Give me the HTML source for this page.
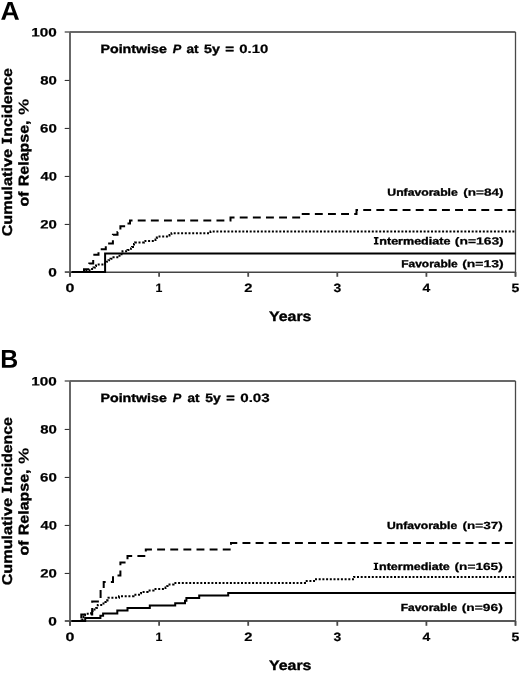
<!DOCTYPE html>
<html><head><meta charset="utf-8"><style>
html,body{margin:0;padding:0;background:#fff;}
svg{display:block;will-change:transform;}
text{font-family:"Liberation Sans",sans-serif;font-weight:bold;fill:#000;stroke:#000;stroke-width:0.35px;text-rendering:geometricPrecision;}
</style></head><body>
<svg width="520" height="673" viewBox="0 0 520 673">
<rect width="520" height="673" fill="#fff"/>
<path d="M70.0,32H515.5" fill="none" stroke="#686868" stroke-width="2"/>
<path d="M515.5,32V276.5" fill="none" stroke="#484848" stroke-width="1.3"/>
<path d="M70.0,32V276.7" fill="none" stroke="#606060" stroke-width="1.9"/>
<path d="M65.0,272.2H515.5" fill="none" stroke="#444" stroke-width="1.6"/>
<path d="M64.7,272H70.0" stroke="#606060" stroke-width="1.5"/>
<path d="M70.00,272V276.8" stroke="#4a4a4a" stroke-width="1.8"/>
<path d="M64.7,224.45H69.5" stroke="#333" stroke-width="1.1"/>
<path d="M159.10,272V276.8" stroke="#4a4a4a" stroke-width="1.8"/>
<path d="M64.7,176.45H69.5" stroke="#333" stroke-width="1.1"/>
<path d="M248.20,272V276.8" stroke="#4a4a4a" stroke-width="1.8"/>
<path d="M64.7,128.45H69.5" stroke="#333" stroke-width="1.1"/>
<path d="M337.30,272V276.8" stroke="#4a4a4a" stroke-width="1.8"/>
<path d="M64.7,80.45H69.5" stroke="#333" stroke-width="1.1"/>
<path d="M426.40,272V276.8" stroke="#4a4a4a" stroke-width="1.8"/>
<path d="M64.7,32H70.0" stroke="#606060" stroke-width="1.5"/>
<path d="M515.50,272V276.8" stroke="#4a4a4a" stroke-width="1.8"/>
<path d="M70.0,381H515.5" fill="none" stroke="#686868" stroke-width="2"/>
<path d="M515.5,381V625.5" fill="none" stroke="#484848" stroke-width="1.3"/>
<path d="M70.0,381V625.7" fill="none" stroke="#606060" stroke-width="1.9"/>
<path d="M65.0,621H515.5" fill="none" stroke="#585858" stroke-width="1.8"/>
<path d="M64.7,621H70.0" stroke="#606060" stroke-width="1.5"/>
<path d="M70.00,621V625.8" stroke="#4a4a4a" stroke-width="1.8"/>
<path d="M64.7,573.45H69.5" stroke="#333" stroke-width="1.1"/>
<path d="M159.10,621V625.8" stroke="#4a4a4a" stroke-width="1.8"/>
<path d="M64.7,525.45H69.5" stroke="#333" stroke-width="1.1"/>
<path d="M248.20,621V625.8" stroke="#4a4a4a" stroke-width="1.8"/>
<path d="M64.7,477.45H69.5" stroke="#333" stroke-width="1.1"/>
<path d="M337.30,621V625.8" stroke="#4a4a4a" stroke-width="1.8"/>
<path d="M64.7,429.45H69.5" stroke="#333" stroke-width="1.1"/>
<path d="M426.40,621V625.8" stroke="#4a4a4a" stroke-width="1.8"/>
<path d="M64.7,381H70.0" stroke="#606060" stroke-width="1.5"/>
<path d="M515.50,621V625.8" stroke="#4a4a4a" stroke-width="1.8"/>
<path d="M71.8,272H105.1V253.5H515.5" fill="none" stroke="#000" stroke-width="2" />
<path d="M71.80,272.00H86.50V270.50H89.50V269.10H93.50V267.60H95.00V266.10H96.00V264.60H105.00V263.20H106.50V261.70H108.50V260.20H110.50V258.80H113.50V257.30H119.50V255.80H120.50V254.30H121.50V252.90H122.50V251.30H127.50V249.90H131.00V248.40H132.00V247.00H133.00V245.50H134.00V244.00H135.00V242.50H144.00V241.00H155.50V239.60H156.20V238.10H156.80V236.60H169.50V235.10H171.50V233.30H210.50V231.60H515.50" fill="none" stroke="#000" stroke-width="2" stroke-dasharray="2 1.7"/>
<path d="M71.80,272.00H84.00V269.14H89.30V263.43H93.20V254.86H98.50V249.14H105.80V243.43H112.90V234.86H117.50V232.00H120.40V226.29H127.00V223.43H130.00V220.57H230.50V217.60H300.80V214.00H356.50V209.90H515.50" fill="none" stroke="#000" stroke-width="2" stroke-dasharray="7.9 5.22" stroke-dashoffset="0.7"/>
<path d="M71.80,621.00H85.20V618.10H100.40V615.80H103.10V613.40H117.30V610.60H127.50V608.00H149.80V605.40H175.20V603.20H185.00V600.80H186.40V598.10H199.20V595.60H228.20V593.00H515.50" fill="none" stroke="#000" stroke-width="2" />
<path d="M71.80,621.00H81.50V619.50H82.50V618.10H83.50V616.60H84.30V615.20H85.00V613.70H91.00V612.30H92.50V610.80H94.50V609.40H96.20V607.90H96.80V606.50H97.80V605.00H103.50V603.50H105.50V602.10H107.00V600.60H107.50V599.20H108.50V597.70H119.00V596.20H133.50V594.80H139.00V593.30H141.00V591.90H147.50V590.50H153.50V589.00H165.50V587.40H166.00V586.00H167.50V584.50H173.50V583.00H305.00V581.10H314.00V579.30H354.00V576.90H515.50" fill="none" stroke="#000" stroke-width="2" stroke-dasharray="2 1.7"/>
<path d="M71.80,621.00H81.30V614.51H92.20V601.53H100.60V588.55H103.70V582.06H113.00V575.57H120.40V562.59H127.50V556.10H145.80V549.61H231.00V543.10H515.50" fill="none" stroke="#000" stroke-width="2" stroke-dasharray="7.9 5.22" stroke-dashoffset="0.7"/>
<text transform="matrix(1.0289,0.0005,0,1,0.48,19.80)" font-size="25.857" style="stroke-width:0.0px">A</text>
<text transform="matrix(0.9620,0.0005,0,1,0.26,367.80)" font-size="25.857" style="stroke-width:0.0px">B</text>
<text transform="matrix(1.2667,0.0005,0,1,48.29,276.55)" font-size="12.2" style="stroke-width:0.2px">0</text>
<text transform="matrix(1.2248,0.0005,0,1,40.23,228.55)" font-size="12.2" style="stroke-width:0.2px">20</text>
<text transform="matrix(1.2061,0.0005,0,1,40.48,180.55)" font-size="12.2" style="stroke-width:0.2px">40</text>
<text transform="matrix(1.2344,0.0005,0,1,40.11,132.55)" font-size="12.2" style="stroke-width:0.2px">60</text>
<text transform="matrix(1.2248,0.0005,0,1,40.23,84.55)" font-size="12.2" style="stroke-width:0.2px">80</text>
<text transform="matrix(1.2539,0.0005,0,1,31.32,36.55)" font-size="12.2" style="stroke-width:0.2px">100</text>
<text transform="matrix(1.3220,0.0005,0,1,65.57,291.90)" font-size="12.1" style="stroke-width:0.2px">0</text>
<text transform="matrix(1.0172,0.0005,0,1,155.44,291.90)" font-size="12.1" style="stroke-width:0.2px">1</text>
<text transform="matrix(1.2167,0.0005,0,1,244.18,291.90)" font-size="12.1" style="stroke-width:0.2px">2</text>
<text transform="matrix(1.1452,0.0005,0,1,333.52,291.90)" font-size="12.1" style="stroke-width:0.2px">3</text>
<text transform="matrix(1.1493,0.0005,0,1,422.44,291.90)" font-size="12.1" style="stroke-width:0.2px">4</text>
<text transform="matrix(1.1613,0.0005,0,1,511.55,291.90)" font-size="12.1" style="stroke-width:0.2px">5</text>
<text transform="matrix(1.1444,0.0005,0,1,269.00,320.90)" font-size="13.9">Years</text>
<text transform="translate(12.00,236.36) rotate(-90) matrix(1.1425,0.0005,0,1,0,0)" font-size="14.2">Cumulative</text>
<text transform="translate(12.00,136.69) rotate(-90) matrix(1.1142,0.0005,0,1,0,0)" font-size="14.2">ncidence</text>
<text transform="translate(28.50,206.55) rotate(-90) matrix(1.1288,0.0005,0,1,0,0)" font-size="14.2">of</text>
<text transform="translate(28.50,186.20) rotate(-90) matrix(1.1250,0.0005,0,1,0,0)" font-size="14.2">Relapse,</text>
<text transform="translate(28.50,114.89) rotate(-90) matrix(1.2833,0.0005,0,1,0,0)" font-size="14.2" style="stroke-width:0.1px">%</text>
<text transform="matrix(1.1745,0.0005,0,1,100.50,52.90)" font-size="12.1">Pointwise</text>
<text transform="matrix(1.0482,0.0005,0,1,172.70,52.90)" font-size="12.1"><tspan font-style="italic">P</tspan></text>
<text transform="matrix(1.2667,0.0005,0,1,48.29,625.55)" font-size="12.2" style="stroke-width:0.2px">0</text>
<text transform="matrix(1.2248,0.0005,0,1,40.23,577.55)" font-size="12.2" style="stroke-width:0.2px">20</text>
<text transform="matrix(1.2061,0.0005,0,1,40.48,529.55)" font-size="12.2" style="stroke-width:0.2px">40</text>
<text transform="matrix(1.2344,0.0005,0,1,40.11,481.55)" font-size="12.2" style="stroke-width:0.2px">60</text>
<text transform="matrix(1.2248,0.0005,0,1,40.23,433.55)" font-size="12.2" style="stroke-width:0.2px">80</text>
<text transform="matrix(1.2539,0.0005,0,1,31.32,385.55)" font-size="12.2" style="stroke-width:0.2px">100</text>
<text transform="matrix(1.3220,0.0005,0,1,65.57,640.90)" font-size="12.1" style="stroke-width:0.2px">0</text>
<text transform="matrix(1.0172,0.0005,0,1,155.44,640.90)" font-size="12.1" style="stroke-width:0.2px">1</text>
<text transform="matrix(1.2167,0.0005,0,1,244.18,640.90)" font-size="12.1" style="stroke-width:0.2px">2</text>
<text transform="matrix(1.1452,0.0005,0,1,333.52,640.90)" font-size="12.1" style="stroke-width:0.2px">3</text>
<text transform="matrix(1.1493,0.0005,0,1,422.44,640.90)" font-size="12.1" style="stroke-width:0.2px">4</text>
<text transform="matrix(1.1613,0.0005,0,1,511.55,640.90)" font-size="12.1" style="stroke-width:0.2px">5</text>
<text transform="matrix(1.1444,0.0005,0,1,269.00,669.90)" font-size="13.9">Years</text>
<text transform="translate(12.00,585.36) rotate(-90) matrix(1.1425,0.0005,0,1,0,0)" font-size="14.2">Cumulative</text>
<text transform="translate(12.00,485.69) rotate(-90) matrix(1.1142,0.0005,0,1,0,0)" font-size="14.2">ncidence</text>
<text transform="translate(28.50,555.55) rotate(-90) matrix(1.1288,0.0005,0,1,0,0)" font-size="14.2">of</text>
<text transform="translate(28.50,535.20) rotate(-90) matrix(1.1250,0.0005,0,1,0,0)" font-size="14.2">Relapse,</text>
<text transform="translate(28.50,463.88) rotate(-90) matrix(1.2833,0.0005,0,1,0,0)" font-size="14.2" style="stroke-width:0.1px">%</text>
<text transform="matrix(1.1745,0.0005,0,1,100.50,401.90)" font-size="12.1">Pointwise</text>
<text transform="matrix(1.0482,0.0005,0,1,172.70,401.90)" font-size="12.1"><tspan font-style="italic">P</tspan></text>
<text transform="matrix(1.1226,0.0005,0,1,186.38,52.90)" font-size="12.1">at</text>
<text transform="matrix(1.1791,0.0005,0,1,203.96,52.90)" font-size="12.1">5y</text>
<text transform="matrix(1.2500,0.0005,0,1,225.22,52.90)" font-size="12.1">=</text>
<text transform="matrix(1.2325,0.0005,0,1,239.21,52.90)" font-size="12.1" style="stroke-width:0.2px">0.10</text>
<text transform="matrix(1.1132,0.0005,0,1,187.58,401.90)" font-size="12.1">at</text>
<text transform="matrix(1.1493,0.0005,0,1,205.37,401.90)" font-size="12.1">5y</text>
<text transform="matrix(1.2031,0.0005,0,1,226.34,401.90)" font-size="12.1">=</text>
<text transform="matrix(1.2544,0.0005,0,1,240.20,401.90)" font-size="12.1" style="stroke-width:0.2px">0.03</text>
<text transform="matrix(1.1834,0.0005,0,1,387.33,195.70)" font-size="10.3">Unfavorable</text>
<text transform="matrix(1.3188,0.0005,0,1,463.27,195.70)" font-size="10.3" style="stroke-width:0.22px">(n=84)</text>
<text transform="matrix(1.2184,0.0005,0,1,379.29,244.40)" font-size="10.3">ntermediate</text>
<text transform="matrix(1.3437,0.0005,0,1,454.86,244.40)" font-size="10.3" style="stroke-width:0.22px">(n=163)</text>
<text transform="matrix(1.1583,0.0005,0,1,401.32,267.20)" font-size="10.3">Favorable</text>
<text transform="matrix(1.3557,0.0005,0,1,462.16,267.20)" font-size="10.3" style="stroke-width:0.22px">(n=13)</text>
<text transform="matrix(1.1783,0.0005,0,1,387.03,528.90)" font-size="10.3">Unfavorable</text>
<text transform="matrix(1.3121,0.0005,0,1,462.58,528.90)" font-size="10.3" style="stroke-width:0.22px">(n=37)</text>
<text transform="matrix(1.2114,0.0005,0,1,379.09,570.00)" font-size="10.3">ntermediate</text>
<text transform="matrix(1.3296,0.0005,0,1,454.47,570.00)" font-size="10.3" style="stroke-width:0.22px">(n=165)</text>
<text transform="matrix(1.1625,0.0005,0,1,400.72,610.90)" font-size="10.3">Favorable</text>
<text transform="matrix(1.3389,0.0005,0,1,461.76,610.90)" font-size="10.3" style="stroke-width:0.22px">(n=96)</text>
<path d="M373.90,237.10L378.50,237.10L378.50,238.40L377.20,238.40L377.20,243.10L378.50,243.10L378.50,244.40L373.90,244.40L373.90,243.10L375.20,243.10L375.20,238.40L373.90,238.40Z" fill="#000"/>
<path d="M373.70,562.80L378.20,562.80L378.20,564.10L376.95,564.10L376.95,568.70L378.20,568.70L378.20,570.00L373.70,570.00L373.70,568.70L374.95,568.70L374.95,564.10L373.70,564.10Z" fill="#000"/>
<path d="M1.70,143.80L1.70,137.80L3.40,137.80L3.40,139.35L10.20,139.35L10.20,137.80L11.90,137.80L11.90,143.80L10.20,143.80L10.20,142.25L3.40,142.25L3.40,143.80Z" fill="#000"/>
<path d="M1.70,492.80L1.70,486.80L3.40,486.80L3.40,488.35L10.20,488.35L10.20,486.80L11.90,486.80L11.90,492.80L10.20,492.80L10.20,491.25L3.40,491.25L3.40,492.80Z" fill="#000"/>
</svg>
</body></html>
